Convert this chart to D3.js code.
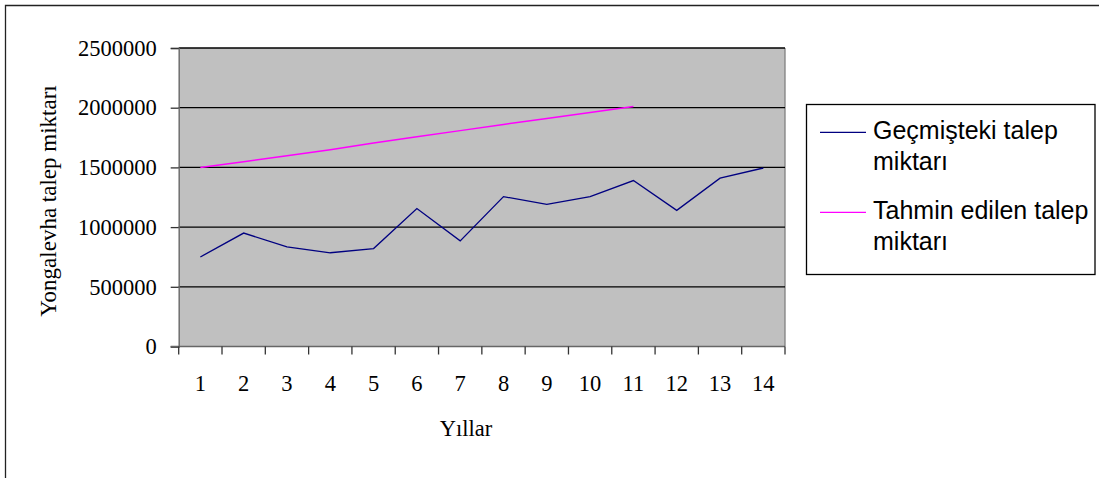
<!DOCTYPE html>
<html>
<head>
<meta charset="utf-8">
<script src="https://cdn.jsdelivr.net/npm/d3@7"></script>
<style>
  html, body { margin: 0; padding: 0; background: #fff; }
  svg { display: block; }
</style>
</head>
<body>
<svg id="chart" width="1099" height="478"></svg>
<script>
const years = [1, 2, 3, 4, 5, 6, 7, 8, 9, 10, 11, 12, 13, 14];
const pastDemand = [750000, 950000, 835000, 785000, 820000, 1155000, 885000, 1255000, 1190000, 1255000, 1390000, 1140000, 1410000, 1495000];
const forecastYears = [1, 2, 3, 4, 5, 6, 7, 8, 9, 10, 11];
const forecastDemand = [1500000, 1548000, 1598000, 1648000, 1705000, 1757000, 1808000, 1860000, 1910000, 1960000, 2010000];
const yTicks = [0, 500000, 1000000, 1500000, 2000000, 2500000];
const seriesNames = ["Geçmişteki talep miktarı", "Tahmin edilen talep miktarı"];
const legendLines = [["Geçmişteki talep", "miktarı"], ["Tahmin edilen talep", "miktarı"]];
const seriesColors = ["#000080", "#FF00FF"];
const yTitle = "Yongalevha talep miktarı";
const xTitle = "Yıllar";

const svg = d3.select("#chart");
const L = 178.7, R = 785, T = 48, B = 346.5;
const serif = "'Liberation Serif', 'Times New Roman', serif";

// outer frame (extends beyond window on right and bottom)
svg.append("path").attr("d", "M5.5,600 L5.5,5.5 L1200,5.5")
  .attr("fill", "none").attr("stroke", "#222").attr("stroke-width", 1.3);

const x = d3.scaleBand().domain(years).range([L, R]).padding(0);
const y = d3.scaleLinear().domain([0, 2500000]).range([B, T]);
const cx = d => x(d) + x.bandwidth() / 2;

// plot background
svg.append("rect").attr("x", L).attr("y", T).attr("width", R - L).attr("height", B - T)
  .attr("fill", "#C0C0C0");
// right border
svg.append("line").attr("x1", R).attr("x2", R).attr("y1", T).attr("y2", B)
  .attr("stroke", "#808080").attr("stroke-width", 1.3);

// gridlines
svg.append("g").selectAll("line").data(yTicks.filter(d => d > 0)).join("line")
  .attr("x1", L).attr("x2", R).attr("y1", d => y(d)).attr("y2", d => y(d))
  .attr("stroke", "#000").attr("stroke-width", 1.3);

// y axis
const yAxis = svg.append("g").attr("transform", `translate(${L},0)`)
  .call(d3.axisLeft(y).tickValues(yTicks).tickSize(8).tickPadding(14).tickFormat(d3.format("d")));
yAxis.select(".domain").attr("stroke", "#666").attr("stroke-width", 1.3);
yAxis.selectAll(".tick line").attr("stroke", "#333").attr("stroke-width", 1.3);
yAxis.selectAll("text").attr("font-family", serif)
  .attr("font-size", 22.5).attr("fill", "#000");

// x axis: ticks at band boundaries
const xAxisG = svg.append("g");
xAxisG.append("line").attr("x1", L - 8).attr("x2", R).attr("y1", B).attr("y2", B)
  .attr("stroke", "#666").attr("stroke-width", 1.3);
const bounds = years.map(d => x(d)).concat([x(years[years.length - 1]) + x.bandwidth()]);
xAxisG.selectAll("line.tk").data(bounds).join("line").attr("class", "tk")
  .attr("x1", d => d).attr("x2", d => d).attr("y1", B).attr("y2", B + 8)
  .attr("stroke", "#333").attr("stroke-width", 1.3);
xAxisG.selectAll("text").data(years).join("text")
  .attr("x", d => cx(d)).attr("y", 391).attr("text-anchor", "middle")
  .attr("font-family", serif)
  .attr("font-size", 22.5).attr("fill", "#000").text(d => d);

// titles
svg.append("text").attr("transform", `translate(56,201) rotate(-90)`)
  .attr("text-anchor", "middle").attr("font-family", serif)
  .attr("font-size", 23).attr("fill", "#000").text(yTitle);
svg.append("text").attr("x", 466).attr("y", 436).attr("text-anchor", "middle")
  .attr("font-family", serif)
  .attr("font-size", 22.5).attr("fill", "#000").text(xTitle);

// lines
const line = d3.line().x(d => cx(d[0])).y(d => y(d[1]));
svg.append("path").datum(years.map((d, i) => [d, pastDemand[i]]))
  .attr("d", line).attr("fill", "none").attr("stroke", seriesColors[0]).attr("stroke-width", 1.3);
svg.append("path").datum(forecastYears.map((d, i) => [d, forecastDemand[i]]))
  .attr("d", line).attr("fill", "none").attr("stroke", seriesColors[1]).attr("stroke-width", 1.5);

// legend
const lg = svg.append("g");
lg.append("rect").attr("x", 806.5).attr("y", 104.5).attr("width", 288.5).attr("height", 170)
  .attr("fill", "#fff").attr("stroke", "#000").attr("stroke-width", 1.3);
const entryY = [132.3, 212.3];
seriesNames.forEach((name, i) => {
  lg.append("line").attr("x1", 820).attr("x2", 866).attr("y1", entryY[i]).attr("y2", entryY[i])
    .attr("stroke", seriesColors[i]).attr("stroke-width", 1.3);
  const t = lg.append("text").attr("font-family", "'Liberation Sans', Arial, sans-serif")
    .attr("font-size", 25).attr("fill", "#000");
  legendLines[i].forEach((ln, j) => {
    t.append("tspan").attr("x", 873).attr("y", entryY[i] + 6.5 + j * 31).text(ln);
  });
});
</script>
</body>
</html>
